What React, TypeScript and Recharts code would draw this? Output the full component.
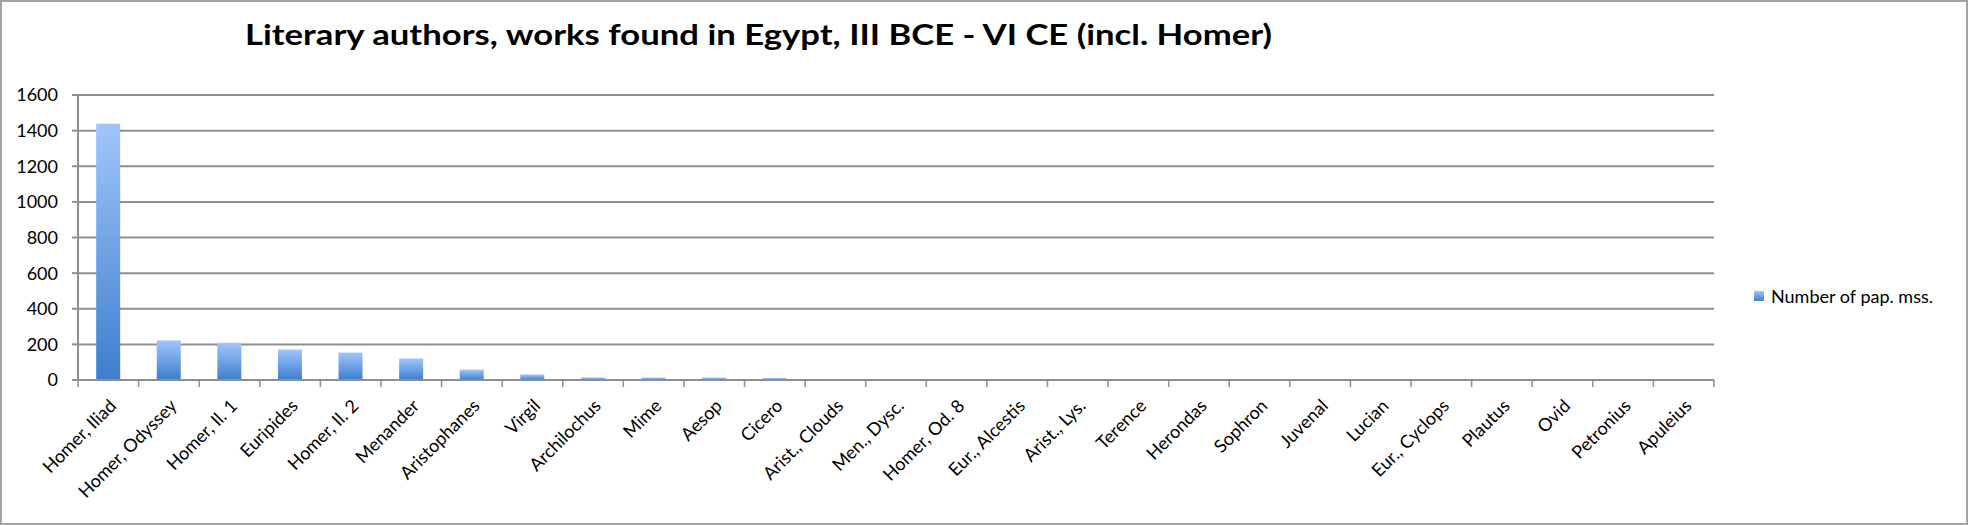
import React from 'react';
import { BarChart, Bar, XAxis, YAxis, CartesianGrid, Legend } from 'recharts';

const authors = [
  'Homer, Iliad', 'Homer, Odyssey', 'Homer, Il. 1', 'Euripides', 'Homer, Il. 2',
  'Menander', 'Aristophanes', 'Virgil', 'Archilochus', 'Mime', 'Aesop', 'Cicero',
  'Arist., Clouds', 'Men., Dysc.', 'Homer, Od. 8', 'Eur., Alcestis', 'Arist., Lys.',
  'Terence', 'Herondas', 'Sophron', 'Juvenal', 'Lucian', 'Eur., Cyclops', 'Plautus',
  'Ovid', 'Petronius', 'Apuleius',
];

const papyri = [
  1438, 222, 209, 171, 154, 121, 58, 31, 14, 13, 13, 11,
  6, 5, 5, 4, 4, 4, 4, 4, 4, 4, 1, 1, 1, 1, 1,
];

const yTicks = [0, 200, 400, 600, 800, 1000, 1200, 1400, 1600];

const seriesName = 'Number of pap. mss.';

const data = authors.map((name, i) => ({ name, count: papyri[i] }));

const W = 1976;
const H = 525;
const PLOT_LEFT = 78;
const PLOT_RIGHT = 1714;
const BAND = (PLOT_RIGHT - PLOT_LEFT) / authors.length;
const GRID = '#8f8f8f';
const FONT = 'Lato, "Open Sans", sans-serif';

const AuthorTick = (props: any) => {
  const { x, y, payload, index } = props;
  const axisY = y - 18;
  return (
    <g>
      <line x1={x - BAND / 2} x2={x - BAND / 2} y1={axisY} y2={axisY + 7} stroke={GRID} strokeWidth={1.5} />
      {index === authors.length - 1 && (
        <line x1={x + BAND / 2} x2={x + BAND / 2} y1={axisY} y2={axisY + 7} stroke={GRID} strokeWidth={1.5} />
      )}
      <text
        x={x}
        y={y}
        dy="0.71em"
        textAnchor="end"
        transform={`rotate(-45 ${x} ${y})`}
        fontFamily={FONT}
        fontSize={18}
        fill="#000"
      >
        {payload.value}
      </text>
    </g>
  );
};

const LegendBox = () => (
  <div style={{ display: 'flex', alignItems: 'center', fontFamily: FONT, fontSize: 18, color: '#000', whiteSpace: 'nowrap' }}>
    <span
      style={{
        display: 'inline-block',
        width: 10,
        height: 10,
        marginRight: 7,
        background: 'linear-gradient(#9fc5fa, #4080d0)',
      }}
    />
    {seriesName}
  </div>
);

export default function App() {
  return (
    <div style={{ position: 'absolute', left: 0, top: 0, width: W, height: H, background: '#fff' }}>
      <BarChart
        width={W}
        height={H}
        data={data}
        margin={{ top: 95, right: W - PLOT_RIGHT, left: 0, bottom: 0 }}
        barCategoryGap="30%"
      >
        <defs>
          <linearGradient id="barGrad" x1="0" y1="0" x2="0" y2="1">
            <stop offset="0%" stopColor="#a0c6fb" />
            <stop offset="100%" stopColor="#3d7ecd" />
          </linearGradient>
        </defs>
        <CartesianGrid vertical={false} stroke={GRID} strokeWidth={2} />
        <XAxis
          dataKey="name"
          interval={0}
          height={H - 380}
          tickSize={6}
          tickMargin={12}
          tickLine={false}
          axisLine={{ stroke: GRID, strokeWidth: 2 }}
          tick={<AuthorTick />}
        />
        <YAxis
          width={PLOT_LEFT}
          domain={[0, 1600]}
          ticks={yTicks}
          tickSize={6}
          tickMargin={14}
          axisLine={{ stroke: GRID, strokeWidth: 2 }}
          tickLine={{ stroke: GRID, strokeWidth: 2 }}
          tick={{ fontFamily: FONT, fontSize: 18, fill: '#000' }}
        />
        <Legend
          layout="horizontal"
          verticalAlign="middle"
          align="center"
          content={<LegendBox />}
          wrapperStyle={{ position: 'absolute', left: 1754, top: 285, width: 'auto' }}
        />
        <Bar dataKey="count" name={seriesName} fill="url(#barGrad)" isAnimationActive={false} />
      </BarChart>
      <svg width={W} height={80} style={{ position: 'absolute', left: 0, top: 0 }}>
        <text
          x={758.5}
          y={45}
          textAnchor="middle"
          fontFamily={FONT}
          fontWeight={700}
          fontSize={29}
          textLength={1027}
          lengthAdjust="spacingAndGlyphs"
          fill="#000"
        >
          Literary authors, works found in Egypt, III BCE - VI CE (incl. Homer)
        </text>
      </svg>
      <div
        style={{
          position: 'absolute',
          left: 0,
          top: 0,
          width: 1968,
          height: H,
          boxSizing: 'border-box',
          border: '2px solid #a3a3a3',
          pointerEvents: 'none',
        }}
      />
    </div>
  );
}
